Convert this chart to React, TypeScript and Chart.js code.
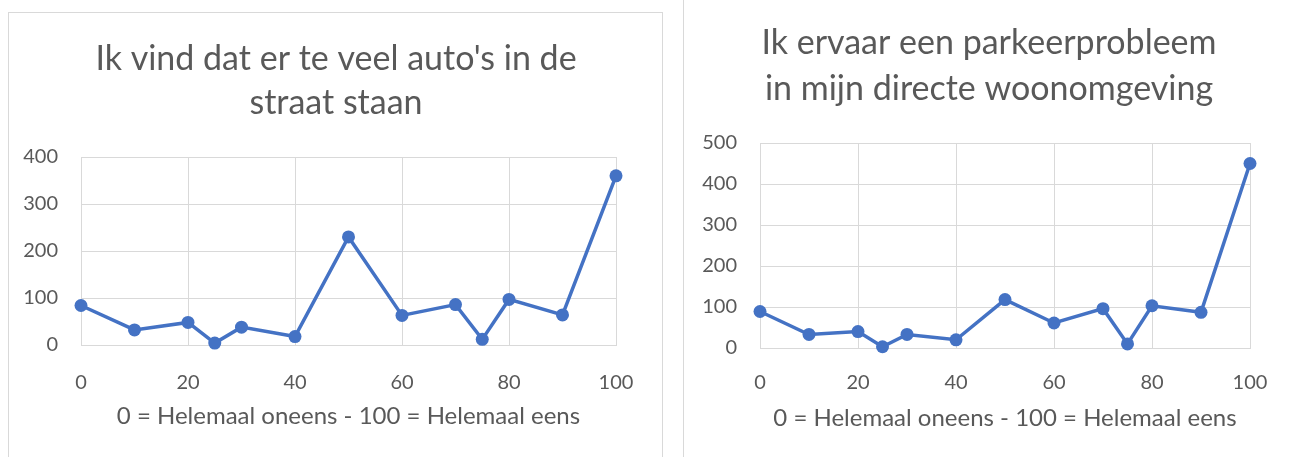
import React, { useEffect, useRef } from "react";
import { Chart, registerables } from "chart.js";

Chart.register(...registerables);

const scoreValues = [0, 10, 20, 25, 30, 40, 50, 60, 70, 75, 80, 90, 100];
const autosValues = [84, 32, 48, 4, 38, 18, 230, 63, 86, 12, 97, 64, 360];
const parkeerValues = [89, 33, 40, 3, 33, 20, 118, 61, 96, 10, 103, 87, 450];
const autosTitle = ["Ik vind dat er te veel auto's in de", "straat staan"];
const parkeerTitle = ["Ik ervaar een parkeerprobleem", "in mijn directe woonomgeving"];
const xAxisTitle = "0 = Helemaal oneens - 100 = Helemaal eens";
const autosMax = 400;
const parkeerMax = 500;

const FONT = "Lato, 'Open Sans', sans-serif";
const TEXT = "#595959";
const GRID = "#d9d9d9";
const BLUE = "#4472c4";
const TITLE_SIZE = 34;

type Cfg = {
  values: number[];
  title: string[];
  yMax: number;
  width: number;
  height: number;
  plotLeft: number;
  plotRight: number;
  plotTop: number;
  plotBottom: number;
  titlePadTop: number;
  titleLinePx: number;
  tickPad: number;
  xTitlePadBottom: number;
};

function ScatterLine(props: Cfg & { left: number; top: number }) {
  const ref = useRef<HTMLCanvasElement | null>(null);
  useEffect(() => {
    if (!ref.current) return;
    const c = props;
    const titleH = c.titlePadTop + c.titleLinePx * 2;
    const chart = new Chart(ref.current, {
      type: "line",
      data: {
        datasets: [
          {
            data: c.values.map((v, i) => ({ x: scoreValues[i], y: v })),
            borderColor: BLUE,
            backgroundColor: BLUE,
            borderWidth: 3.5,
            pointRadius: 6.5,
            pointBorderWidth: 0,
            pointBackgroundColor: BLUE,
            tension: 0,
            clip: false as any,
          },
        ],
      },
      options: {
        animation: false,
        responsive: false,
        maintainAspectRatio: false,
        layout: { padding: 0 },
        plugins: {
          legend: { display: false },
          tooltip: { enabled: false },
          title: {
            display: true,
            text: c.title,
            color: TEXT,
            font: { family: FONT, size: TITLE_SIZE, weight: "normal", lineHeight: c.titleLinePx / TITLE_SIZE },
            padding: { top: c.titlePadTop, bottom: c.plotTop - titleH },
          },
        },
        scales: {
          x: {
            type: "linear",
            min: 0,
            max: 100,
            ticks: { stepSize: 20, color: TEXT, font: { family: FONT, size: 20 }, padding: c.tickPad },
            grid: { color: GRID, lineWidth: 1, drawTicks: false },
            border: { color: GRID, width: 1 },
            title: {
              display: true,
              text: xAxisTitle,
              color: TEXT,
              font: { family: FONT, size: 24, lineHeight: 1.2 },
              padding: { top: 0, bottom: c.xTitlePadBottom },
            },
            afterFit: (s: any) => {
              s.height = c.height - c.plotBottom;
            },
          },
          y: {
            min: 0,
            max: c.yMax,
            ticks: { stepSize: 100, color: TEXT, font: { family: FONT, size: 20 }, padding: 23 },
            grid: { color: GRID, lineWidth: 1, drawTicks: false },
            border: { color: GRID, width: 1 },
            afterFit: (s: any) => {
              s.width = c.plotLeft;
            },
          },
          spacer: {
            type: "linear",
            position: "right",
            min: 0,
            max: 1,
            display: true,
            ticks: { display: false },
            grid: { display: false, drawTicks: false },
            border: { display: false },
            afterFit: (s: any) => {
              s.width = c.width - c.plotRight;
            },
          } as any,
        },
      },
    });
    return () => chart.destroy();
  }, []);
  return (
    <canvas
      ref={ref}
      width={props.width}
      height={props.height}
      style={{ position: "absolute", left: props.left, top: props.top, width: props.width, height: props.height }}
    />
  );
}

export default function App() {
  return (
    <div
      style={{
        position: "absolute",
        left: 0,
        top: 0,
        width: 1294,
        height: 457,
        overflow: "hidden",
        background: "#ffffff",
      }}
    >
      <div
        style={{
          position: "absolute",
          left: 8,
          top: 12,
          width: 655,
          height: 500,
          border: "1px solid " + GRID,
          boxSizing: "border-box",
        }}
      />
      <div
        style={{
          position: "absolute",
          left: 683,
          top: -5,
          width: 700,
          height: 500,
          border: "1px solid " + GRID,
          boxSizing: "border-box",
        }}
      />
      <ScatterLine
        left={9}
        top={13}
        width={654}
        height={444}
        values={autosValues}
        title={autosTitle}
        yMax={autosMax}
        plotLeft={72}
        plotRight={607}
        plotTop={144}
        plotBottom={332}
        titlePadTop={24}
        titleLinePx={44}
        tickPad={26}
        xTitlePadBottom={26}
      />
      <ScatterLine
        left={684}
        top={0}
        width={610}
        height={457}
        values={parkeerValues}
        title={parkeerTitle}
        yMax={parkeerMax}
        plotLeft={76}
        plotRight={566}
        plotTop={143}
        plotBottom={348}
        titlePadTop={20}
        titleLinePx={46}
        tickPad={23}
        xTitlePadBottom={24}
      />
    </div>
  );
}
